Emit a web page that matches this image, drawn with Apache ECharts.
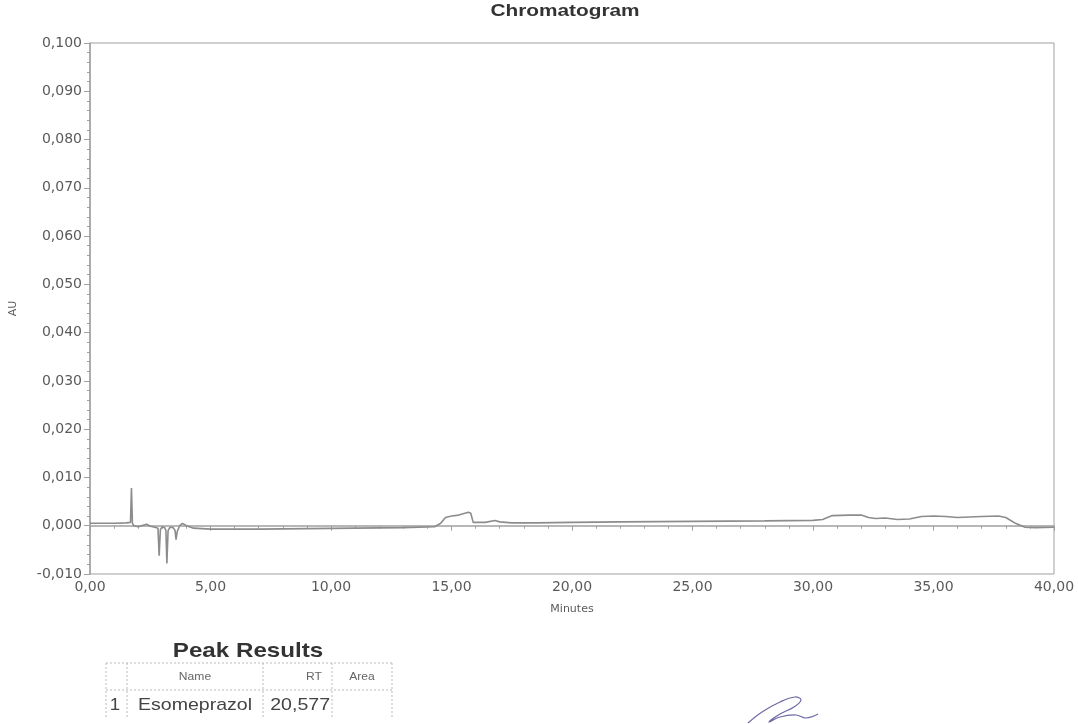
<!DOCTYPE html>
<html><head><meta charset="utf-8">
<script src="https://cdn.jsdelivr.net/npm/echarts@6/dist/echarts.min.js"></script>
<style>html,body{margin:0;padding:0;background:#fff}#c{width:1078px;height:724px}</style>
</head><body><div id="c"></div>
<script>
var times = [0, 0.5, 1.0, 1.5, 1.68, 1.72, 1.76, 1.82, 2.0, 2.2, 2.35, 2.5, 2.7, 2.82, 2.87, 2.92, 3.0, 3.1, 3.15, 3.19, 3.24, 3.32, 3.45, 3.53, 3.57, 3.62, 3.72, 3.84, 4.0, 4.3, 5, 7, 9, 11, 13, 14.3, 14.55, 14.75, 15.0, 15.3, 15.7, 15.8, 15.9, 16.4, 16.8, 17.0, 17.5, 18.5, 20, 22, 25, 28, 30, 30.4, 30.8, 31.5, 32.0, 32.3, 32.6, 33.0, 33.5, 34.0, 34.5, 35.0, 35.5, 36.0, 37.0, 37.7, 38.0, 38.4, 38.8, 39.2, 40];
var au = [0.0005, 0.0005, 0.0005, 0.0006, 0.0007, 0.0078, 0.0005, 0.0000, -0.0002, 0.0001, 0.0003, -0.0001, -0.0003, -0.0005, -0.0062, -0.0008, -0.0002, -0.0004, -0.0010, -0.0078, -0.0010, -0.0003, -0.0004, -0.0010, -0.0029, -0.0012, 0.0000, 0.0005, 0.0000, -0.0005, -0.0007, -0.0007, -0.0006, -0.0005, -0.0004, -0.0002, 0.0005, 0.0017, 0.0020, 0.0022, 0.0028, 0.0026, 0.0007, 0.0007, 0.0011, 0.0008, 0.0006, 0.0006, 0.0007, 0.0008, 0.0009, 0.0010, 0.0011, 0.0013, 0.0021, 0.0022, 0.0022, 0.0017, 0.0015, 0.0016, 0.0013, 0.0014, 0.0019, 0.0020, 0.0019, 0.0017, 0.0019, 0.0020, 0.0017, 0.0005, -0.0003, -0.0004, -0.0003];
var tableHeaders = ['', 'Name', 'RT', 'Area'];
var peakIdx = ['1'];
var peakNames = ['Esomeprazol'];
var peakRT = ['20,577'];
var peakArea = [''];

var chart = echarts.init(document.getElementById('c'), null, {renderer: 'canvas'});
var pts = times.map(function (t, i) { return [t, au[i]]; });
var axisCol = '#a0a0a0';
var txtCol = '#5a5a5a';
var font = 'Liberation Sans, Arial, sans-serif';
var lblFont = 'DejaVu Sans, sans-serif';

var g = [];
function txt(s, x, y, f, col, align, sx) {
  g.push({type: 'text', x: x, y: y, scaleX: sx || 1, style: {text: s, textAlign: align || 'center', textVerticalAlign: 'middle', font: f, fill: col}});
}
txt('Chromatogram', 565, 12, 'bold 16px ' + font, '#333', 'center', 1.3);
txt('Peak Results', 248, 651, 'bold 21px ' + font, '#333', 'center', 1.15);
var colX = [106, 127, 263, 332, 392], rowY = [663, 690, 718];
rowY.forEach(function (y, i) {
  if (i === 2) return;
  g.push({type: 'line', shape: {x1: colX[0], y1: y, x2: colX[4], y2: y}, style: {stroke: '#bbb', lineWidth: 1, lineDash: [2, 2]}});
});
colX.forEach(function (x) {
  g.push({type: 'line', shape: {x1: x, y1: rowY[0], x2: x, y2: rowY[2]}, style: {stroke: '#bbb', lineWidth: 1, lineDash: [2, 2]}});
});
tableHeaders.forEach(function (h, i) {
  if (i === 2) txt(h, colX[3] - 10, 677, '11px ' + font, '#666', 'right', 1.1);
  else txt(h, (colX[i] + colX[i + 1]) / 2, 677, '11px ' + font, '#666', 'center', 1.1);
});
peakNames.forEach(function (n, r) {
  var y = 705 + r * 27;
  txt(peakIdx[r], 115, y, '17px ' + font, '#444', 'center', 1.1);
  txt(n, 195, y, '17px ' + font, '#444', 'center', 1.15);
  txt(peakRT[r], 330, y, '17px ' + font, '#444', 'right', 1.15);
  txt(peakArea[r], 362, y, '17px ' + font, '#444', 'center', 1.1);
});
// signature
g.push({type: 'polyline', shape: {points: [[748, 723], [762, 712], [780, 702], [795, 697], [801, 700], [794, 707], [780, 714], [769, 722], [780, 717], [796, 715], [806, 718], [818, 714]], smooth: 0.4}, style: {stroke: '#6d6aa6', lineWidth: 1.2, fill: null}});

function fmt(d) { return function (v) { return v.toFixed(d).replace('.', ','); }; }

chart.setOption({
  animation: false,
  backgroundColor: '#fff',
  grid: {left: 89, right: 24, top: 43, bottom: 150, show: true, borderColor: axisCol, borderWidth: 1, backgroundColor: 'transparent'},
  xAxis: {
    type: 'value', min: 0, max: 40, interval: 5,
    name: 'Minutes', nameLocation: 'middle', nameGap: 30,
    nameTextStyle: {fontFamily: lblFont, fontSize: 11, color: txtCol},
    axisLine: {show: true, lineStyle: {color: axisCol, width: 1.5}},
    axisTick: {show: true, length: 5, lineStyle: {color: axisCol}},
    minorTick: {show: true, splitNumber: 5, length: 3, lineStyle: {color: axisCol}},
    splitLine: {show: false},
    axisLabel: {formatter: fmt(2), fontFamily: lblFont, fontSize: 14, color: txtCol, margin: 6}
  },
  yAxis: {
    type: 'value', min: -0.01, max: 0.1, interval: 0.01,
    name: 'AU', nameLocation: 'middle', nameGap: 71, nameRotate: 90,
    nameTextStyle: {fontFamily: lblFont, fontSize: 11, color: txtCol},
    axisLine: {show: true, lineStyle: {color: axisCol, width: 1.5}},
    axisTick: {show: true, length: 6, lineStyle: {color: axisCol}},
    minorTick: {show: true, splitNumber: 5, length: 3, lineStyle: {color: axisCol}},
    splitLine: {show: false},
    axisLabel: {formatter: fmt(3), fontFamily: lblFont, fontSize: 14, color: txtCol, margin: 8}
  },
  series: [{
    type: 'line', data: pts, showSymbol: false, symbol: 'none',
    lineStyle: {color: '#8c8c8c', width: 1.6}
  }],
  graphic: g
});
</script></body></html>
